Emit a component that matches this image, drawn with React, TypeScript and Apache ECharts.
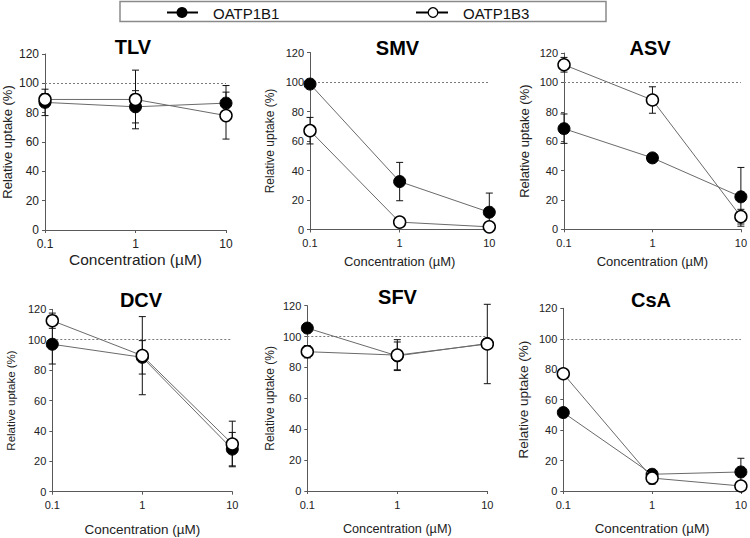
import React, { useEffect, useRef } from "react";
import * as echarts from "echarts";

// ---- data ----
const concentrations = [0.1, 1, 10];
const panelTitles = ["TLV", "SMV", "ASV", "DCV", "SFV", "CsA"];
const yTicks = [0, 20, 40, 60, 80, 100, 120];

const tlvB1 = [87, 84, 86.5];
const tlvB1Err = [9, 11, 12];
const tlvB3 = [89, 89, 78];
const tlvB3Err = [4, 20, 16];

const smvB1 = [98.6, 32.5, 11.7];
const smvB1Err = [0, 13, 13];
const smvB3 = [67, 5, 1.8];
const smvB3Err = [9, 1, 0.5];

const asvB1 = [68.5, 48.6, 22.1];
const asvB1Err = [10, 1, 20];
const asvB3 = [112, 88, 8.6];
const asvB3Err = [5, 9, 5];

const dcvB1 = [97, 88.4, 28];
const dcvB1Err = [13, 11, 11];
const dcvB3 = [112.5, 89.5, 31.4];
const dcvB3Err = [5, 25.7, 15];

const sfvB1 = [105.5, 87.5, 95.5];
const sfvB1Err = [3, 9, 3];
const sfvB3 = [90.2, 88, 95.2];
const sfvB3Err = [4, 10, 25.7];

const csaB1 = [51.5, 11, 12.5];
const csaB1Err = [3, 1, 9];
const csaB3 = [77, 8.5, 3.3];
const csaB3Err = [3, 4, 1];

const referenceLevel = 100;
const seriesNames = ["OATP1B1", "OATP1B3"];

const panelData = [
  [tlvB1, tlvB1Err, tlvB3, tlvB3Err],
  [smvB1, smvB1Err, smvB3, smvB3Err],
  [asvB1, asvB1Err, asvB3, asvB3Err],
  [dcvB1, dcvB1Err, dcvB3, dcvB3Err],
  [sfvB1, sfvB1Err, sfvB3, sfvB3Err],
  [csaB1, csaB1Err, csaB3, csaB3Err],
];

// ---- layout (positions / sizes) ----
const layout = [
  { left: 44.5, right: 226, top: 54, bottom: 230, tx: 133, ty: 47, tick: 12, xName: 15.5, xGap: 21, yName: 13, yGap: 31 },
  { left: 310, right: 489.3, top: 52.5, bottom: 229.5, tx: 397.5, ty: 47.5, tick: 11, xName: 13, xGap: 25, yName: 12, yGap: 34 },
  { left: 564, right: 743, top: 53, bottom: 229.3, tx: 650, ty: 47.5, tick: 11, xName: 13, xGap: 25.5, yName: 13, yGap: 33.5 },
  { left: 52.3, right: 232.3, top: 309.3, bottom: 491.7, tx: 141, ty: 300, tick: 11, xName: 13.5, xGap: 30.5, yName: 11.5, yGap: 35.5 },
  { left: 307.3, right: 487.3, top: 305.7, bottom: 491, tx: 397.5, ty: 297, tick: 11, xName: 12.7, xGap: 31.5, yName: 12, yGap: 31.3 },
  { left: 563.3, right: 744, top: 308.3, bottom: 491, tx: 651, ty: 300, tick: 11, xName: 13.4, xGap: 31.3, yName: 13.5, yGap: 32.5 },
];

const FONT = "'Liberation Sans', Arial, Helvetica, sans-serif";
const AXIS_COLOR = "#595959";
const LINE_COLOR = "#6a6a6a";

function errorRender(params: any, api: any) {
  const x = api.value(0);
  const y = api.value(1);
  const e = api.value(2);
  if (!e) return null;
  const top = api.coord([x, y + e]);
  const bot = api.coord([x, Math.max(0, y - e)]);
  const w = 3.5;
  const st = { stroke: "#111", lineWidth: 1 };
  return {
    type: "group",
    children: [
      { type: "line", shape: { x1: top[0], y1: top[1], x2: bot[0], y2: bot[1] }, style: st },
      { type: "line", shape: { x1: top[0] - w, y1: top[1], x2: top[0] + w, y2: top[1] }, style: st },
      { type: "line", shape: { x1: bot[0] - w, y1: bot[1], x2: bot[0] + w, y2: bot[1] }, style: st },
    ],
  };
}

function buildOption() {
  const grid: any[] = [];
  const xAxis: any[] = [];
  const yAxis: any[] = [];
  const series: any[] = [];
  const graphic: any[] = [];

  layout.forEach((L, i) => {
    grid.push({
      left: L.left,
      top: L.top,
      width: L.right - L.left,
      height: L.bottom - L.top,
      containLabel: false,
    });
    xAxis.push({
      type: "log",
      logBase: 10,
      gridIndex: i,
      min: concentrations[0],
      max: concentrations[concentrations.length - 1],
      name: "Concentration (µM)",
      nameLocation: "middle",
      nameGap: L.xGap,
      nameTextStyle: { fontFamily: FONT, fontSize: L.xName, color: "#222" },
      axisLine: { show: true, lineStyle: { color: AXIS_COLOR, width: 1 } },
      axisTick: { show: true, length: 3, lineStyle: { color: AXIS_COLOR } },
      minorTick: { show: false },
      splitLine: { show: false },
      axisLabel: {
        fontFamily: FONT,
        fontSize: L.tick,
        color: "#222",
        margin: 8,
        showMinLabel: true,
        showMaxLabel: true,
        formatter: (v: number) => String(Number(Number(v).toPrecision(6))),
      },
    });
    yAxis.push({
      type: "value",
      gridIndex: i,
      min: yTicks[0],
      max: yTicks[yTicks.length - 1],
      interval: yTicks[1] - yTicks[0],
      name: "Relative uptake (%)",
      nameLocation: "middle",
      nameGap: L.yGap,
      nameTextStyle: { fontFamily: FONT, fontSize: L.yName, color: "#222" },
      axisLine: { show: true, lineStyle: { color: AXIS_COLOR, width: 1 } },
      axisTick: { show: true, length: 3, lineStyle: { color: AXIS_COLOR } },
      splitLine: { show: false },
      axisLabel: { fontFamily: FONT, fontSize: L.tick, color: "#222", margin: 6 },
    });

    const [b1, e1, b3, e3] = panelData[i];

    series.push({
      type: "custom",
      name: seriesNames[0] + " error",
      xAxisIndex: i,
      yAxisIndex: i,
      coordinateSystem: "cartesian2d",
      renderItem: errorRender,
      encode: { x: 0, y: 1 },
      data: concentrations.map((c, j) => [c, b1[j], e1[j]]),
      z: 4,
      silent: true,
    });
    series.push({
      type: "custom",
      name: seriesNames[1] + " error",
      xAxisIndex: i,
      yAxisIndex: i,
      coordinateSystem: "cartesian2d",
      renderItem: errorRender,
      encode: { x: 0, y: 1 },
      data: concentrations.map((c, j) => [c, b3[j], e3[j]]),
      z: 4,
      silent: true,
    });
    series.push({
      type: "line",
      name: seriesNames[0],
      xAxisIndex: i,
      yAxisIndex: i,
      data: concentrations.map((c, j) => [c, b1[j]]),
      symbol: "circle",
      symbolSize: 12,
      showAllSymbol: true,
      lineStyle: { color: LINE_COLOR, width: 1 },
      itemStyle: { color: "#000", borderColor: "#000", borderWidth: 1 },
      z: 10,
      markLine: {
        silent: true,
        symbol: "none",
        z: 1,
        label: { show: false },
        lineStyle: { type: [2, 2], color: "#7a7a7a", width: 1 },
        data: [{ yAxis: referenceLevel }],
      },
    });
    series.push({
      type: "line",
      name: seriesNames[1],
      xAxisIndex: i,
      yAxisIndex: i,
      data: concentrations.map((c, j) => [c, b3[j]]),
      symbol: "circle",
      symbolSize: 12,
      showAllSymbol: true,
      lineStyle: { color: LINE_COLOR, width: 1 },
      itemStyle: { color: "#fff", borderColor: "#000", borderWidth: 1.5 },
      z: 11,
    });

    graphic.push({
      type: "text",
      x: L.tx,
      y: L.ty,
      style: {
        text: panelTitles[i],
        font: `bold 20px ${FONT}`,
        fill: "#000",
        textAlign: "center",
        textVerticalAlign: "middle",
      },
    });
  });

  // legend box
  graphic.push({
    type: "rect",
    shape: { x: 120, y: 1.5, width: 486, height: 20 },
    style: { fill: "#fff", stroke: "#8a8a8a", lineWidth: 1.5 },
  });
  graphic.push({
    type: "line",
    shape: { x1: 167, y1: 12.5, x2: 198, y2: 12.5 },
    style: { stroke: "#000", lineWidth: 2 },
  });
  graphic.push({
    type: "circle",
    shape: { cx: 182, cy: 12.5, r: 5.5 },
    style: { fill: "#000" },
  });
  graphic.push({
    type: "text",
    x: 213,
    y: 13,
    style: { text: seriesNames[0], font: `15px ${FONT}`, fill: "#111", textVerticalAlign: "middle" },
  });
  graphic.push({
    type: "line",
    shape: { x1: 416, y1: 12.5, x2: 448, y2: 12.5 },
    style: { stroke: "#000", lineWidth: 2 },
  });
  graphic.push({
    type: "circle",
    shape: { cx: 433, cy: 12.5, r: 4.8 },
    style: { fill: "#fff", stroke: "#000", lineWidth: 1.3 },
  });
  graphic.push({
    type: "text",
    x: 463,
    y: 13,
    style: { text: seriesNames[1], font: `15px ${FONT}`, fill: "#111", textVerticalAlign: "middle" },
  });

  return {
    animation: false,
    backgroundColor: "#fff",
    textStyle: { fontFamily: FONT },
    grid,
    xAxis,
    yAxis,
    series,
    graphic,
  };
}

export default function App() {
  const ref = useRef<HTMLDivElement>(null);
  useEffect(() => {
    if (!ref.current) return;
    document.body.style.margin = "0";
    const chart = echarts.init(ref.current, undefined, { renderer: "svg" });
    chart.setOption(buildOption() as any);
    return () => chart.dispose();
  }, []);
  return (
    <div
      ref={ref}
      style={{ position: "absolute", left: 0, top: 0, width: 750, height: 538, background: "#fff" }}
    />
  );
}
